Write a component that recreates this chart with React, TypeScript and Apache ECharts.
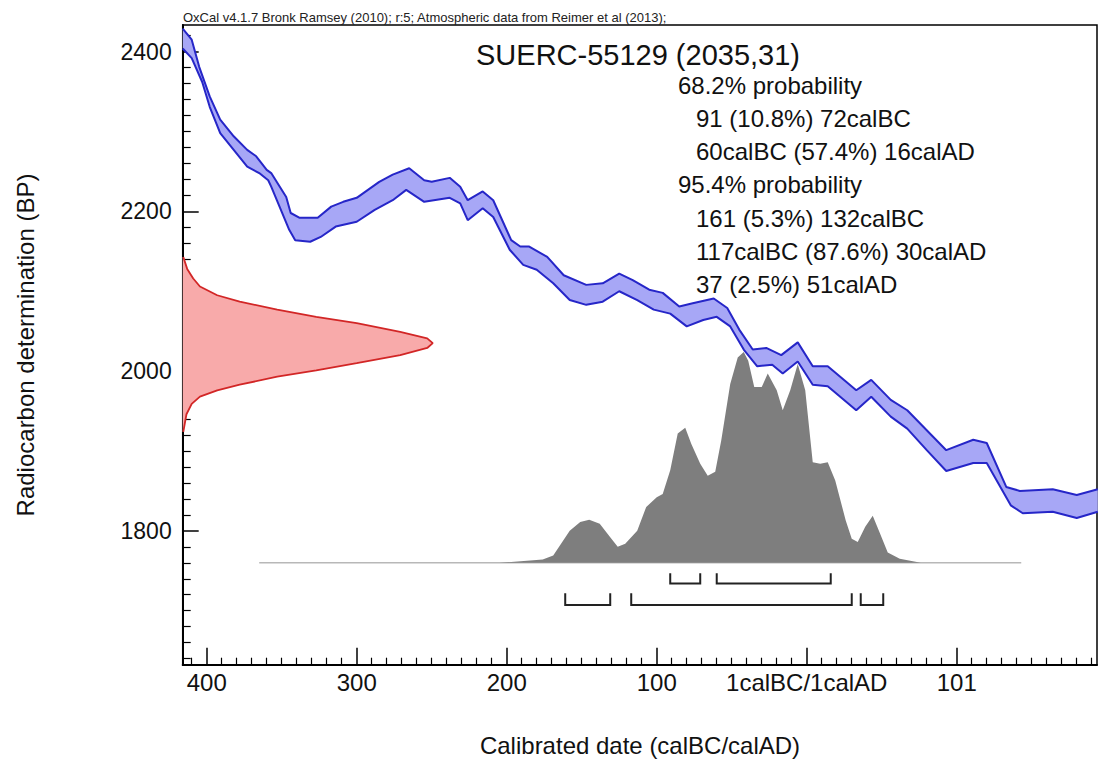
import { useEffect, useRef } from 'react'
import * as echarts from 'echarts'

const FONT = '"Liberation Sans", Arial, Helvetica, sans-serif'

// x = calendar year, 0 = 1calBC/1calAD boundary (BC negative)
// calibration curve band (IntCal13), [year, BP]
const calUpper = [
  [-416, 2429], [-410, 2415], [-405, 2381], [-398, 2344], [-391, 2315], [-382, 2294],
  [-373, 2277], [-367, 2269], [-360, 2252], [-357, 2248], [-347, 2218], [-344, 2198],
  [-338, 2192], [-326, 2192], [-317, 2206], [-309, 2212], [-300, 2217], [-285, 2237],
  [-276, 2246], [-265, 2254], [-255, 2239], [-250, 2237], [-238, 2242], [-231, 2231],
  [-226, 2214], [-216, 2225], [-209, 2214], [-197, 2164], [-191, 2156], [-185, 2156],
  [-173, 2143], [-162, 2120], [-147, 2108], [-136, 2110], [-125, 2122], [-116, 2114],
  [-105, 2102], [-96, 2098], [-85, 2081], [-76, 2085], [-62, 2091], [-53, 2079],
  [-45, 2052], [-36, 2027], [-27, 2029], [-17, 2020], [-6, 2036], [4, 2006],
  [14, 2006], [33, 1976], [43, 1989], [56, 1964], [67, 1951], [80, 1926],
  [93, 1901], [111, 1914], [120, 1910], [133, 1855], [142, 1850], [164, 1852],
  [180, 1845], [194, 1852]
]
const calLower = [
  [-416, 2404], [-410, 2392], [-403, 2362], [-398, 2331], [-391, 2298], [-382, 2277],
  [-373, 2256], [-365, 2248], [-359, 2239], [-357, 2231], [-345, 2177], [-341, 2164],
  [-331, 2162], [-324, 2168], [-314, 2181], [-300, 2187], [-288, 2202], [-276, 2214],
  [-267, 2227], [-255, 2212], [-238, 2217], [-231, 2210], [-226, 2189], [-216, 2204],
  [-209, 2193], [-198, 2152], [-189, 2133], [-180, 2127], [-169, 2110], [-158, 2089],
  [-147, 2083], [-136, 2087], [-125, 2100], [-113, 2089], [-102, 2077], [-91, 2072],
  [-80, 2056], [-69, 2064], [-60, 2068], [-51, 2056], [-42, 2027], [-33, 2006],
  [-23, 2008], [-16, 1997], [-6, 2012], [4, 1983], [14, 1981], [33, 1951],
  [43, 1968], [56, 1943], [67, 1928], [80, 1901], [93, 1875], [111, 1885],
  [120, 1885], [136, 1832], [144, 1822], [164, 1824], [180, 1816], [194, 1824]
]

// radiocarbon measurement 2035±31 drawn against the y axis, [x, BP]
const dateLikelihood = [
  [-415.6, 2143], [-413, 2128], [-409, 2116], [-404.5, 2106], [-393, 2095], [-378, 2087],
  [-353, 2077], [-327, 2068], [-300, 2060], [-271, 2049], [-253, 2041], [-249.3, 2035],
  [-253, 2029], [-271, 2020], [-300, 2010], [-327, 2001], [-353, 1993], [-378, 1983],
  [-393, 1976], [-404.5, 1968], [-410, 1959], [-413.5, 1946], [-415.6, 1924]
]

// calibrated probability, [year, height above baseline in BP units]
const posteriorBase = 1760
const posterior = [
  [-205, 0], [-176, 4], [-169, 9], [-158, 40], [-151, 51], [-145, 54], [-138, 49],
  [-131, 32], [-126, 20], [-121, 24], [-113, 40], [-107, 70], [-100, 82], [-96, 86],
  [-91, 116], [-86, 162], [-81, 169], [-77, 149], [-71, 124], [-66, 109], [-61, 114],
  [-57, 153], [-51, 224], [-46, 257], [-42, 264], [-39, 253], [-35, 220], [-30, 220],
  [-26, 237], [-20, 216], [-16, 191], [-11, 216], [-6, 249], [-1, 216], [4, 126],
  [9, 124], [14, 126], [19, 103], [26, 53], [30, 30], [34, 26], [39, 45], [44, 59],
  [49, 36], [54, 13], [62, 5], [76, 0]
]
const baselineExtent = [-365, 143]

// highest probability density ranges [from, to]
const ranges68 = [[-91, -71], [-60, 16]]
const ranges95 = [[-161, -131], [-117, 30], [36, 51]]

const xMin = -416
const xMax = 193.5
const yMin = 1632.4
const yMax = 2433.4

const xMajorTicks = [-400, -300, -200, -100, 0, 100]
const xTickLabels = ['400', '300', '200', '100', '1calBC/1calAD', '101']
const yMajorTicks = [1800, 2000, 2200, 2400]

const headerText = 'OxCal v4.1.7 Bronk Ramsey (2010); r:5; Atmospheric data from Reimer et al (2013);'
const sampleTitle = 'SUERC-55129 (2035,31)'
const rangeLines = [
  { text: '68.2% probability', indent: false },
  { text: '91 (10.8%) 72calBC', indent: true },
  { text: '60calBC (57.4%) 16calAD', indent: true },
  { text: '95.4% probability', indent: false },
  { text: '161 (5.3%) 132calBC', indent: true },
  { text: '117calBC (87.6%) 30calAD', indent: true },
  { text: '37 (2.5%) 51calAD', indent: true }
]

const minorTicks = (lo: number, hi: number, step: number, major: number) => {
  const out: number[] = []
  for (let v = Math.ceil(lo / step) * step; v <= hi; v += step) {
    if (v % major !== 0) out.push(v)
  }
  return out
}

const polygonSeries = (points: () => number[][], fill: string, z: number) => ({
  type: 'custom',
  silent: true,
  clip: true,
  z,
  data: [[0, 2000]],
  renderItem: (_params: any, api: any) => ({
    type: 'polygon',
    shape: { points: points().map((p) => api.coord(p)) },
    style: { fill }
  })
})

const bracketSeries = (ranges: number[][], bottom: number, top: number) => ({
  type: 'custom',
  silent: true,
  z: 6,
  encode: { x: [0, 1], y: [2, 3] },
  data: ranges.map((r) => [r[0], r[1], bottom, top]),
  renderItem: (_params: any, api: any) => {
    const s = api.value(0)
    const e = api.value(1)
    const b = api.value(2)
    const t = api.value(3)
    return {
      type: 'polyline',
      shape: { points: [api.coord([s, t]), api.coord([s, b]), api.coord([e, b]), api.coord([e, t])] },
      style: { stroke: '#222', lineWidth: 2, fill: 'none' }
    }
  }
})

export default function App() {
  const chartRef = useRef<HTMLDivElement>(null)

  useEffect(() => {
    if (!chartRef.current) return
    const chart = echarts.init(chartRef.current, null, { renderer: 'svg' })

    const xBase = { type: 'value', min: xMin, max: xMax, position: 'bottom', splitLine: { show: false } }
    const yBase = { type: 'value', min: yMin, max: yMax, position: 'left', splitLine: { show: false } }

    const option = {
      animation: false,
      backgroundColor: '#fff',
      grid: {
        show: true,
        left: 182.7,
        top: 25,
        width: 914.3,
        height: 639.7,
        borderColor: '#000',
        borderWidth: 1.5,
        backgroundColor: 'transparent'
      },
      xAxis: [
        {
          ...xBase,
          axisLine: { show: true, onZero: false, lineStyle: { color: '#000', width: 2 } },
          axisTick: { show: true, inside: true, length: 17, lineStyle: { color: '#000', width: 1.5 }, customValues: xMajorTicks },
          axisLabel: {
            customValues: xMajorTicks,
            formatter: (v: number) => {
              const i = xMajorTicks.indexOf(v)
              return i >= 0 ? xTickLabels[i] : ''
            },
            fontSize: 24,
            fontFamily: FONT,
            color: '#111',
            margin: 6
          }
        },
        {
          ...xBase,
          axisLine: { show: false, onZero: false },
          axisTick: { show: true, inside: true, length: 7, lineStyle: { color: '#000', width: 1.2 }, customValues: minorTicks(xMin, xMax, 10, 100) },
          axisLabel: { show: false }
        }
      ],
      yAxis: [
        {
          ...yBase,
          axisLine: { show: true, onZero: false, lineStyle: { color: '#000', width: 2 } },
          axisTick: { show: true, inside: true, length: 16, lineStyle: { color: '#000', width: 1.5 }, customValues: yMajorTicks },
          axisLabel: {
            customValues: yMajorTicks,
            formatter: (v: number) => String(v),
            fontSize: 23,
            fontFamily: FONT,
            color: '#111',
            margin: 11
          }
        },
        {
          ...yBase,
          axisLine: { show: false, onZero: false },
          axisTick: { show: true, inside: true, length: 8, lineStyle: { color: '#000', width: 1.2 }, customValues: minorTicks(yMin, yMax, 20, 200) },
          axisLabel: { show: false }
        }
      ],
      series: [
        polygonSeries(() => calUpper.concat([...calLower].reverse()), '#a7a7f6', 2),
        {
          type: 'line',
          silent: true,
          z: 3,
          symbol: 'none',
          data: [[baselineExtent[0], posteriorBase], [baselineExtent[1], posteriorBase]],
          lineStyle: { color: '#b8b8b8', width: 1.5 }
        },
        polygonSeries(
          () => posterior.map((p) => [p[0], posteriorBase + p[1]]),
          '#7e7e7e',
          4
        ),
        polygonSeries(
          () => dateLikelihood.concat([[xMin, dateLikelihood[dateLikelihood.length - 1][1]], [xMin, dateLikelihood[0][1]]]),
          '#f8aaaa',
          4
        ),
        {
          type: 'line',
          silent: true,
          z: 5,
          symbol: 'none',
          data: calUpper,
          lineStyle: { color: '#2626c8', width: 2 }
        },
        {
          type: 'line',
          silent: true,
          z: 5,
          symbol: 'none',
          data: calLower,
          lineStyle: { color: '#2626c8', width: 2 }
        },
        {
          type: 'line',
          silent: true,
          z: 5,
          symbol: 'none',
          data: dateLikelihood,
          lineStyle: { color: '#d22626', width: 1.8 }
        },
        bracketSeries(ranges68, 1734, 1747),
        bracketSeries(ranges95, 1707, 1722)
      ],
      graphic: [
        {
          type: 'text',
          left: 183,
          top: 11,
          style: { text: headerText, font: `13px ${FONT}`, fill: '#222' }
        },
        {
          type: 'text',
          x: 476,
          y: 55,
          style: { text: sampleTitle, font: `29px ${FONT}`, fill: '#111', textAlign: 'left', textVerticalAlign: 'middle' }
        },
        ...rangeLines.map((line, i) => ({
          type: 'text',
          x: line.indent ? 696 : 678,
          y: 85 + i * 33.3,
          style: { text: line.text, font: `24px ${FONT}`, fill: '#111', textAlign: 'left', textVerticalAlign: 'middle' }
        })),
        {
          type: 'text',
          x: 25,
          y: 345,
          rotation: Math.PI / 2,
          style: { text: 'Radiocarbon determination (BP)', font: `24px ${FONT}`, fill: '#111', textAlign: 'center', textVerticalAlign: 'middle' }
        },
        {
          type: 'text',
          x: 640,
          y: 745,
          style: { text: 'Calibrated date (calBC/calAD)', font: `24px ${FONT}`, fill: '#111', textAlign: 'center', textVerticalAlign: 'middle' }
        }
      ]
    }

    chart.setOption(option as any)

    return () => {
      chart.dispose()
    }
  }, [])

  return (
    <div
      ref={chartRef}
      style={{ position: 'fixed', left: 0, top: 0, width: 1106, height: 761, background: '#fff' }}
    />
  )
}
